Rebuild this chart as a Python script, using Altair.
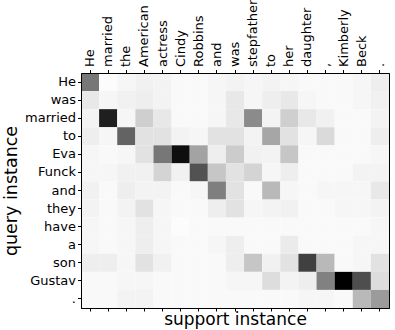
import altair as alt
import pandas as pd

support = ["He", "married", "the", "American", "actress", "Cindy", "Robbins", "and",
           "was", "stepfather", "to", "her", "daughter", ",", "Kimberly", "Beck", "."]
query = ["He", "was", "married", "to", "Eva", "Funck", "and", "they", "have", "a",
         "son", "Gustav", "."]

r_he      = [0.50, 0.01, 0.03, 0.05, 0.04, 0.02, 0.02, 0.03, 0.04, 0.03, 0.04, 0.03, 0.02, 0.02, 0.02, 0.03, 0.06]
r_was     = [0.08, 0.03, 0.05, 0.06, 0.04, 0.02, 0.02, 0.03, 0.08, 0.03, 0.06, 0.08, 0.03, 0.02, 0.02, 0.03, 0.05]
r_married = [0.04, 0.88, 0.03, 0.17, 0.08, 0.02, 0.02, 0.03, 0.08, 0.42, 0.04, 0.17, 0.08, 0.05, 0.02, 0.02, 0.04]
r_to      = [0.06, 0.03, 0.58, 0.10, 0.10, 0.04, 0.03, 0.10, 0.10, 0.04, 0.32, 0.10, 0.03, 0.13, 0.02, 0.02, 0.06]
r_eva     = [0.03, 0.02, 0.03, 0.10, 0.50, 0.96, 0.33, 0.06, 0.18, 0.05, 0.04, 0.20, 0.02, 0.02, 0.02, 0.02, 0.03]
r_funck   = [0.03, 0.03, 0.05, 0.05, 0.15, 0.05, 0.65, 0.20, 0.10, 0.15, 0.03, 0.06, 0.02, 0.02, 0.02, 0.04, 0.04]
r_and     = [0.05, 0.02, 0.06, 0.04, 0.04, 0.02, 0.03, 0.47, 0.10, 0.02, 0.25, 0.03, 0.02, 0.03, 0.03, 0.03, 0.08]
r_they    = [0.04, 0.02, 0.04, 0.10, 0.03, 0.02, 0.02, 0.06, 0.10, 0.03, 0.04, 0.05, 0.02, 0.02, 0.03, 0.03, 0.04]
r_have    = [0.03, 0.02, 0.03, 0.06, 0.03, 0.01, 0.02, 0.02, 0.02, 0.02, 0.02, 0.02, 0.02, 0.02, 0.02, 0.02, 0.03]
r_a       = [0.03, 0.02, 0.03, 0.06, 0.03, 0.02, 0.02, 0.03, 0.06, 0.02, 0.02, 0.07, 0.02, 0.02, 0.02, 0.03, 0.03]
r_son     = [0.06, 0.06, 0.03, 0.10, 0.05, 0.02, 0.02, 0.02, 0.06, 0.20, 0.05, 0.10, 0.73, 0.25, 0.02, 0.03, 0.10]
r_gustav  = [0.02, 0.02, 0.03, 0.03, 0.02, 0.02, 0.02, 0.02, 0.03, 0.03, 0.12, 0.04, 0.06, 0.46, 1.00, 0.67, 0.12]
r_dot     = [0.02, 0.02, 0.04, 0.04, 0.02, 0.02, 0.02, 0.02, 0.02, 0.02, 0.02, 0.02, 0.03, 0.03, 0.02, 0.25, 0.36]

rows = [r_he, r_was, r_married, r_to, r_eva, r_funck, r_and, r_they, r_have, r_a,
        r_son, r_gustav, r_dot]

records = []
for qi, q in enumerate(query):
    for si, s in enumerate(support):
        records.append({"support": s, "query": q, "v": rows[qi][si]})
df = pd.DataFrame(records)

FONT = "DejaVu Sans"

xscale = alt.Scale(domain=support, paddingInner=0, paddingOuter=0)
yscale = alt.Scale(domain=query, paddingInner=0, paddingOuter=0)

heat = alt.Chart(df).mark_rect(strokeWidth=0).encode(
    x=alt.X("support:N", scale=xscale, sort=support,
            axis=alt.Axis(orient="top", labelAngle=-90, labelAlign="left",
                          labelBaseline="middle", title=None, labelFontSize=13,
                          labelPadding=3, tickSize=3.5, ticks=True, domainColor="black",
                          tickColor="black", labelColor="black")),
    y=alt.Y("query:N", scale=yscale, sort=query,
            axis=alt.Axis(title="query instance", titleFontSize=17.5,
                          titleFontWeight="normal", labelFontSize=13, labelPadding=2,
                          tickSize=3.5, titlePadding=4, domainColor="black",
                          tickColor="black", labelColor="black", titleColor="black")),
    color=alt.Color("v:Q", scale=alt.Scale(domain=[0, 1], range=["#ffffff", "#000000"]),
                    legend=None),
)

bottom = alt.Chart(df).mark_rect(opacity=0).encode(
    x=alt.X("support:N", scale=xscale, sort=support,
            axis=alt.Axis(orient="bottom", labels=False, tickSize=3,
                          title="support instance", titleFontSize=17,
                          titleFontWeight="normal", titlePadding=0,
                          domainColor="black", tickColor="black", titleColor="black")),
    y=alt.Y("query:N", scale=yscale, sort=query),
)

chart = alt.layer(heat, bottom).resolve_axis(x="independent").properties(
    width=308, height=235,
    autosize=alt.AutoSizeParams(type="none"),
    padding={"left": 81, "top": 73, "right": 6, "bottom": 22},
).configure_view(stroke="black", strokeWidth=1).configure_axis(
    labelFont=FONT, titleFont=FONT, grid=False
)

chart.save("out.html", embed_options={"renderer": "svg", "actions": False})
